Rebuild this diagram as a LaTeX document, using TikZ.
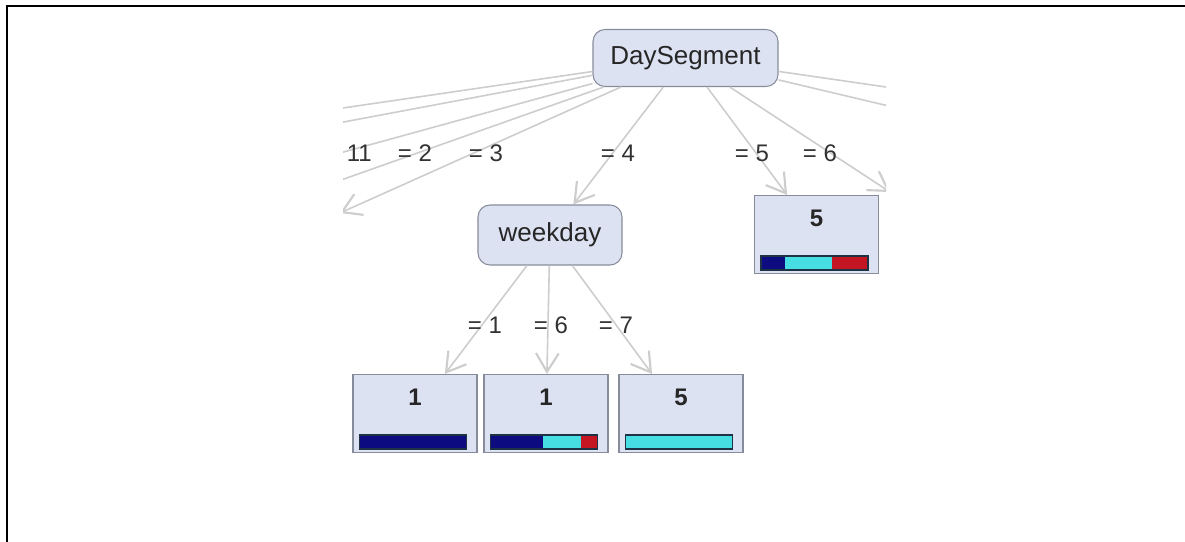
\documentclass[tikz,border=0pt]{standalone}
\usepackage{fontspec}
\setmainfont{Liberation Sans}
\usetikzlibrary{arrows.meta}

\definecolor{splitfill}{RGB}{221,226,242}
\definecolor{splitdraw}{RGB}{135,140,155}
\definecolor{edgegray}{RGB}{205,205,205}
\definecolor{labelgray}{RGB}{50,50,50}
\definecolor{barblue}{RGB}{12,12,128}
\definecolor{barcyan}{RGB}{70,222,226}
\definecolor{barred}{RGB}{196,22,34}
\definecolor{barline}{RGB}{30,50,70}

\begin{document}
\begin{tikzpicture}[
    x=0.75pt, y=-0.75pt,
    % Common Styles
    split/.style={
        rectangle,
        rounded corners=9pt,
        fill=splitfill,
        draw=splitdraw,
        line width=0.8pt,
        minimum width=138.75pt,
        minimum height=42.75pt,
        font=\fontsize{19.5}{22}\selectfont,
        text=black!85
    },
    leaf/.style={
        rectangle,
        fill=splitfill,
        draw=splitdraw,
        line width=0.8pt,
        inner sep=0pt,
        minimum width=93pt,
        text height=23.6pt,
        text depth=34.9pt,
        font=\fontsize{18}{21}\selectfont\bfseries,
        text=black!85
    },
    edge/.style={
        edgegray,
        line width=1.2pt,
        -{Straight Barb[length=14pt, width=17pt, line width=1.6pt]}
    },
    edge_label/.style={
        font=\fontsize{18}{21}\selectfont,
        text=labelgray
    },
    frame_line/.style={
        black,
        line width=1.5pt
    }
]

    \useasboundingbox (0,0) rectangle (1185,542);

    % ================= FRAME =================
    \draw[frame_line] (7,542) -- (7,6) -- (1185,6);

    \begin{scope}
    \clip (343,20) rectangle (886,470);

    % ================= NODES =================
    \node[split] (day) at (685.5,58) {DaySegment};
    \node[split, minimum width=108pt, minimum height=45pt] (week) at (550,235) {weekday};

    % Leaves
    \node[leaf] (leafR) at (816.5,234.5) {5};
    \node[leaf] (leafA) at (415,413.5) {1};
    \node[leaf] (leafB) at (546,413.5) {1};
    \node[leaf] (leafC) at (681,413.5) {5};

    % Off-picture ends of the DaySegment branches
    \coordinate (t1) at (-300,202);
    \coordinate (t10) at (-200,224);
    \coordinate (t11) at (100,219);
    \coordinate (t2) at (200,230);
    \coordinate (t3) at (340,213);
    \coordinate (t6) at (890,192);
    \coordinate (t7) at (1100,118);
    \coordinate (t8) at (1100,156);

    % ================= EDGES =================
    \foreach \t in {t1, t10, t11, t2, t3, t6, t7, t8} {
        \draw[edge] (day) -- (\t);
    }
    \draw[edge] (day) -- (week);
    \draw[edge] (day) -- (leafR);

    \draw[edge] (week) -- (leafA);
    \draw[edge] (week) -- (leafB);
    \draw[edge] (week) -- (leafC);

    % Edge labels
    \node[edge_label] (l11) at (349,153) {= 11};
    \node[edge_label] (l2) at (415,153) {= 2};
    \node[edge_label] (l3) at (486,153) {= 3};
    \node[edge_label] (l4) at (618,153) {= 4};
    \node[edge_label] (l5) at (752,153) {= 5};
    \node[edge_label] (l6) at (820,153) {= 6};

    \node[edge_label] (w1) at (485,325) {= 1};
    \node[edge_label] (w6) at (551,325) {= 6};
    \node[edge_label] (w7) at (616,325) {= 7};

    % Class distribution bars
    \foreach \lf/\fb/\fc in {leafR/0.22/0.44, leafA/1/0, leafB/0.49/0.36, leafC/0/1} {
        \begin{scope}[shift={(\lf.south west)}]
            \pgfmathsetmacro{\xa}{7+107*\fb}
            \pgfmathsetmacro{\xb}{\xa+107*\fc}
            \fill[barblue] (7,-4) rectangle (\xa,-18);
            \fill[barcyan] (\xa,-4) rectangle (\xb,-18);
            \fill[barred] (\xb,-4) rectangle (114,-18);
            \draw[barline, line width=1.1pt] (7,-4) rectangle (114,-18);
        \end{scope}
    }

    \end{scope}

\end{tikzpicture}
\end{document}
